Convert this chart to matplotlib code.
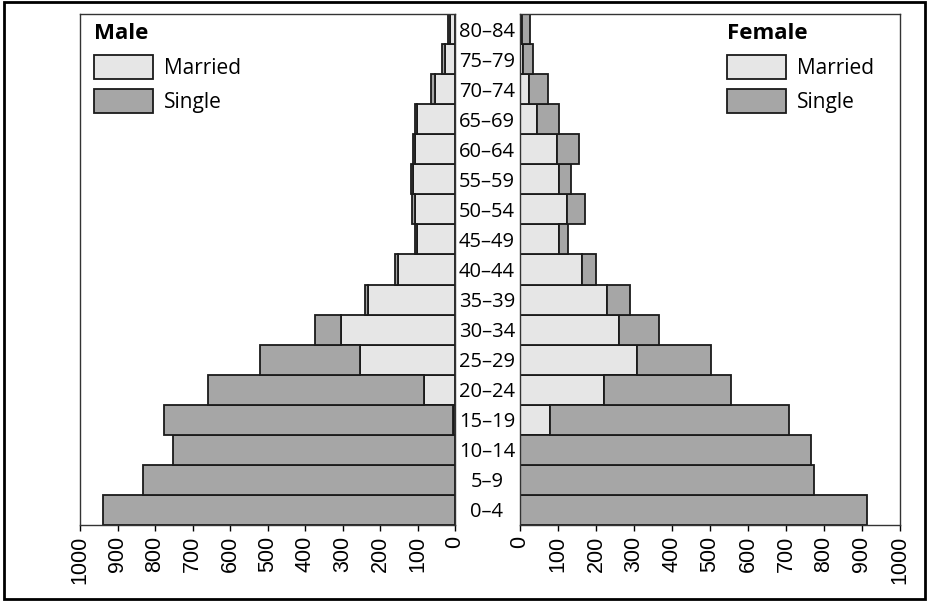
import matplotlib
matplotlib.use('Agg')
import matplotlib.pyplot as plt
from matplotlib.patches import Rectangle, Patch

# 年龄组（从下往上）
age_groups = ['0–4', '5–9', '10–14', '15–19', '20–24', '25–29', '30–34', '35–39',
              '40–44', '45–49', '50–54', '55–59', '60–64', '65–69', '70–74', '75–79', '80–84']

# 男性：已婚 / 单身
male_married = [0, 0, 0, 5, 82, 254, 303, 232, 151, 102, 108, 111, 106, 102, 53, 27, 13]
male_single = [940, 833, 753, 771, 578, 265, 71, 9, 9, 6, 7, 7, 7, 6, 11, 8, 6]

# 女性：已婚 / 单身
female_married = [0, 0, 0, 80, 222, 308, 260, 230, 162, 102, 123, 102, 97, 46, 23, 9, 4]
female_single = [912, 775, 765, 629, 332, 195, 107, 59, 39, 25, 48, 32, 59, 56, 52, 25, 22]

x_ticks = [0, 100, 200, 300, 400, 500, 600, 700, 800, 900, 1000]

MARRIED_COLOR = '#e6e6e6'
SINGLE_COLOR = '#a6a6a6'
EDGE_COLOR = '#1a1a1a'
TEXT_FONT = ['Open Sans', 'DejaVu Sans']
TICK_FONT = ['Liberation Sans', 'DejaVu Sans']

fig = plt.figure(figsize=(9.29, 6.01), dpi=100)
ax_l = fig.add_axes([80 / 929, 1 - 525 / 601, 375 / 929, 511 / 601])
ax_r = fig.add_axes([520 / 929, 1 - 525 / 601, 380 / 929, 511 / 601], sharey=ax_l)

ypos = list(range(len(age_groups)))
bar_kw = dict(height=1.0, edgecolor=EDGE_COLOR, linewidth=1.3)

# 左边：男性
ax_l.barh(ypos, male_married, color=MARRIED_COLOR, **bar_kw)
ax_l.barh(ypos, male_single, left=male_married, color=SINGLE_COLOR, **bar_kw)
# 右边：女性
ax_r.barh(ypos, female_married, color=MARRIED_COLOR, **bar_kw)
ax_r.barh(ypos, female_single, left=female_married, color=SINGLE_COLOR, **bar_kw)

ax_l.set_xlim(1000, 0)
ax_r.set_xlim(0, 1000)
ax_l.set_ylim(-0.5, len(age_groups) - 0.5)

for ax in (ax_l, ax_r):
    ax.set_xticks(x_ticks)
    ax.set_xticklabels([str(v) for v in x_ticks], rotation=90,
                       fontsize=15.5, family=TICK_FONT)
    ax.tick_params(axis='x', length=4, width=1, pad=4, colors='black')
    for sp in ax.spines.values():
        sp.set_color('#333333')
        sp.set_linewidth(1.0)

# 年龄组标签放在两图中间
ax_l.yaxis.tick_right()
ax_l.set_yticks(ypos)
ax_l.set_yticklabels(age_groups, fontsize=14.5, family=TEXT_FONT)
ax_l.tick_params(axis='y', length=0, pad=23)
for lab in ax_l.get_yticklabels():
    lab.set_horizontalalignment('center')
ax_r.tick_params(axis='y', left=False, labelleft=False)

# 图例
def add_legend(ax, title, anchor):
    handles = [Patch(facecolor=MARRIED_COLOR, edgecolor=EDGE_COLOR, linewidth=1.3, label='Married'),
               Patch(facecolor=SINGLE_COLOR, edgecolor=EDGE_COLOR, linewidth=1.3, label='Single')]
    leg = ax.legend(handles=handles, title=title, loc='upper left', bbox_to_anchor=anchor,
                    frameon=False, borderpad=0, borderaxespad=0,
                    handlelength=2.85, handleheight=1.4, handletextpad=0.5,
                    labelspacing=0.5, alignment='left',
                    prop={'family': TEXT_FONT, 'size': 15},
                    title_fontproperties={'family': TEXT_FONT, 'size': 16, 'weight': 'bold'})
    return leg

add_legend(ax_l, 'Male', (0.037, 0.982))
add_legend(ax_r, 'Female', (0.545, 0.982))

# 外框
fig.patches.append(Rectangle((4 / 929, 2 / 601), 921 / 929, 597 / 601,
                             transform=fig.transFigure, fill=False,
                             edgecolor='black', linewidth=2.0))

fig.savefig('out.png', dpi=100)
